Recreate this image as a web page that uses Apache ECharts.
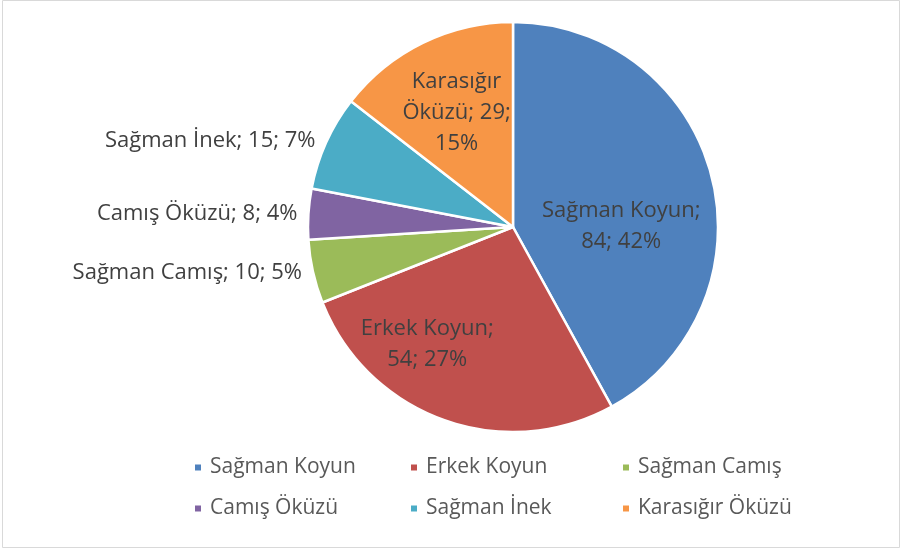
<!DOCTYPE html>
<html>
<head>
<meta charset="utf-8">
<script src="https://cdn.jsdelivr.net/npm/echarts@6/dist/echarts.min.js"></script>
<style>
  html, body { margin: 0; padding: 0; background: #fff; }
  #main { width: 903px; height: 550px; }
</style>
</head>
<body>
<div id="main"></div>
<script>
// kategori ve değerler
var names = ["Sağman Koyun", "Erkek Koyun", "Sağman Camış", "Camış Öküzü", "Sağman İnek", "Karasığır Öküzü"];
var values = [84, 54, 10, 8, 15, 29];
// grafikteki yüzde etiketleri
var pcts = [42, 27, 5, 4, 7, 15];
var colors = ["#4F81BD", "#C0504D", "#9BBB59", "#8064A2", "#4BACC6", "#F79646"];

var fontName = "Open Sans";

/********* etiketler *********/
var insideLabel = {
    position: "inside",
    color: "#404040",
    fontSize: 22,
    lineHeight: 31,
    fontFamily: fontName
};
var outsideLabel = {
    position: "outside",
    color: "#404040",
    fontSize: 22,
    fontFamily: fontName
};

function buildData(){
    var arr = [];
    for (var i = 0; i < names.length; i++) {
        var item = {
            name: names[i],
            value: values[i],
            itemStyle: { color: colors[i] }
        };
        if (i == 0) {
            item.label = Object.assign({}, insideLabel, { offset: [6, 25] });
            item.label.formatter = names[i] + ";\n" + values[i] + "; " + pcts[i] + "%";
        } else if (i == 1) {
            item.label = Object.assign({}, insideLabel, { offset: [-50, 18] });
            item.label.formatter = names[i] + ";\n" + values[i] + "; " + pcts[i] + "%";
        } else if (i == 5) {
            item.label = Object.assign({}, insideLabel, { offset: [-10, -20] });
            item.label.formatter = "Karasığır\nÖküzü; " + values[i] + ";\n" + pcts[i] + "%";
        } else {
            item.label = Object.assign({}, outsideLabel);
            item.label.formatter = names[i] + "; " + values[i] + "; " + pcts[i] + "%";
        }
        arr.push(item);
    }
    return arr;
}

function legendCol(list, left){
    return {
        orient: "vertical",
        left: left,
        top: 452,
        data: list,
        icon: "rect",
        itemWidth: 8,
        itemHeight: 8,
        itemGap: 20,
        selectedMode: false,
        textStyle: { color: "#595959", fontSize: 21, fontFamily: fontName, padding: [0, 0, 0, 3] }
    };
}

var myChart = echarts.init(document.getElementById("main"));

var option = {
    animation: false,
    graphic: [{
        type: "rect",
        shape: { x: 2.5, y: 0.5, width: 897, height: 547 },
        style: { fill: null, stroke: "#d9d9d9", lineWidth: 1 }
    }],
    legend: [
        legendCol([names[0], names[3]], 188),
        legendCol([names[1], names[4]], 404),
        legendCol([names[2], names[5]], 616)
    ],
    series: [{
        type: "pie",
        center: [513, 227],
        radius: 205,
        startAngle: 90,
        clockwise: true,
        avoidLabelOverlap: false,
        itemStyle: { borderColor: "#fff", borderWidth: 2.5 },
        labelLine: { show: false, length: 4, length2: 2 },
        emphasis: { disabled: true },
        data: buildData()
    }]
};

myChart.setOption(option);
</script>
</body>
</html>
